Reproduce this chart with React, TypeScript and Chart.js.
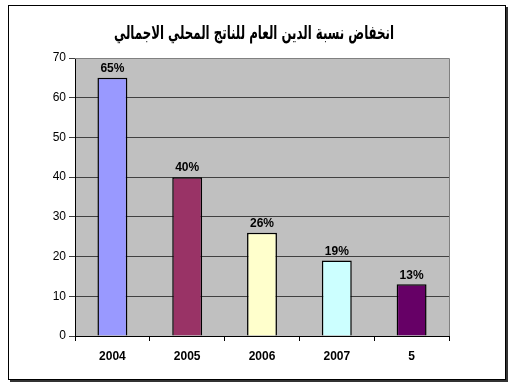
import React, { useEffect, useRef } from "react";
import { Chart, registerables } from "chart.js";

Chart.register(...registerables);

const title = "انخفاض نسبة الدين العام للناتج المحلي الاجمالي";
const categories = ["2004", "2005", "2006", "2007", "5"];
const values = [65, 40, 26, 19, 13];
const labels = ["65%", "40%", "26%", "19%", "13%"];
const barColors = ["#9999FF", "#993366", "#FFFFCC", "#CCFFFF", "#660066"];
const yTicks = [0, 10, 20, 30, 40, 50, 60, 70];

const framePlugin = {
  id: "frame",
  beforeDraw(chart: any) {
    const { ctx, chartArea: a } = chart;
    ctx.save();
    ctx.fillStyle = "#ffffff";
    ctx.fillRect(0, 0, chart.width, chart.height);
    // outer border with shadow
    ctx.fillStyle = "#333333";
    ctx.fillRect(10, 379, 498, 3);
    ctx.fillRect(505, 7, 3, 375);
    ctx.fillStyle = "#ffffff";
    ctx.fillRect(9, 6, 496, 374);
    ctx.strokeStyle = "#000000";
    ctx.lineWidth = 1;
    ctx.strokeRect(8.5, 5.5, 497, 374);
    // plot background
    ctx.fillStyle = "#C0C0C0";
    ctx.fillRect(a.left, a.top, a.right - a.left, a.bottom - a.top);
    // title, compressed horizontally to match the narrower original face
    ctx.fillStyle = "#000000";
    ctx.font = "bold 19px 'DejaVu Sans', Arial, sans-serif";
    ctx.textAlign = "center";
    ctx.textBaseline = "middle";
    const w = ctx.measureText(title).width;
    const target = 280;
    const sx = w > 0 ? target / w : 1;
    ctx.translate(254, 34);
    ctx.scale(sx, 1);
    ctx.fillText(title, 0, 0);
    ctx.restore();
  },
  beforeDatasetsDraw(chart: any) {
    const { ctx, chartArea: a } = chart;
    ctx.save();
    ctx.strokeStyle = "#808080";
    ctx.lineWidth = 1;
    ctx.beginPath();
    ctx.moveTo(a.left, a.top + 0.5);
    ctx.lineTo(a.right + 0.5, a.top + 0.5);
    ctx.lineTo(a.right + 0.5, a.bottom);
    ctx.stroke();
    ctx.restore();
  },
  afterDatasetsDraw(chart: any) {
    const { ctx } = chart;
    const meta = chart.getDatasetMeta(0);
    ctx.save();
    ctx.fillStyle = "#000000";
    ctx.font = "bold 12px Arial, 'Liberation Sans', sans-serif";
    ctx.textAlign = "center";
    ctx.textBaseline = "bottom";
    meta.data.forEach((el: any, i: number) => {
      ctx.fillText(labels[i], el.x, el.y - 3);
    });
    ctx.restore();
  },
};

export default function App() {
  const ref = useRef<HTMLCanvasElement>(null);
  useEffect(() => {
    if (!ref.current) return;
    const chart = new Chart(ref.current, {
      type: "bar",
      data: {
        labels: categories,
        datasets: [
          {
            data: values,
            backgroundColor: barColors,
            borderColor: "#000000",
            borderWidth: 1.5,
            barPercentage: 0.4,
            categoryPercentage: 1,
          },
        ],
      },
      options: {
        responsive: false,
        animation: false,
        layout: { padding: { top: 58, left: 0, right: 66, bottom: 0 } },
        plugins: { legend: { display: false }, tooltip: { enabled: false }, title: { display: false } },
        scales: {
          x: {
            offset: true,
            grid: {
              offset: true,
              drawOnChartArea: false,
              drawTicks: true,
              tickLength: 5,
              color: "#000000",
            },
            border: { color: "#000000", width: 1 },
            ticks: {
              color: "#000000",
              font: { family: "Arial, 'Liberation Sans', sans-serif", size: 12, weight: "bold" },
              padding: 8,
              maxRotation: 0,
            },
            afterFit(scale: any) {
              scale.height = 54;
            },
          },
          y: {
            min: 0,
            max: 70,
            afterBuildTicks(scale: any) {
              scale.ticks = yTicks.map((v) => ({ value: v }));
            },
            grid: {
              color: "#404040",
              drawTicks: true,
              tickLength: 6,
            },
            border: { color: "#000000", width: 1 },
            ticks: {
              color: "#000000",
              font: { family: "Arial, 'Liberation Sans', sans-serif", size: 12 },
              padding: 3,
            },
            afterFit(scale: any) {
              scale.width = 75;
            },
          },
        },
      },
      plugins: [framePlugin],
    });
    return () => chart.destroy();
  }, []);
  return (
    <div style={{ position: "absolute", left: 0, top: 0, width: 515, height: 390 }}>
      <canvas ref={ref} width={515} height={390} />
    </div>
  );
}
